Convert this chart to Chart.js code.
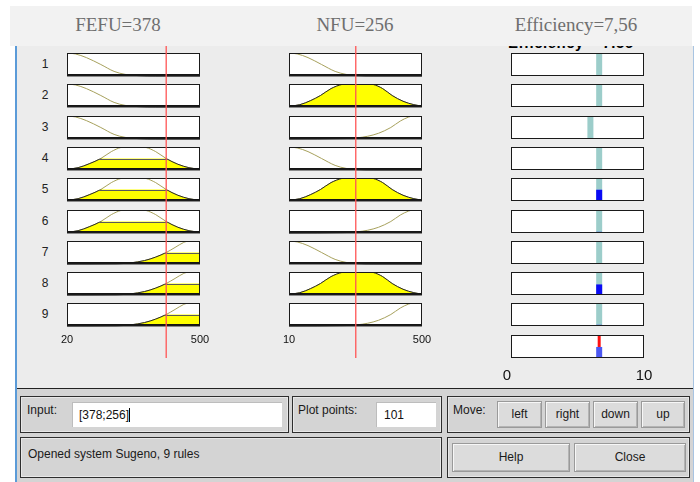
<!DOCTYPE html>
<html><head><meta charset="utf-8">
<script src="https://cdn.jsdelivr.net/npm/chart.js@4.4.1/dist/chart.umd.min.js"></script>
<style>
html,body{margin:0;padding:0;background:#fff;}
body{width:700px;height:482px;overflow:hidden;font-family:"Liberation Sans",Arial,sans-serif;}
#root{position:absolute;left:0;top:0;width:700px;height:482px;}
.a{position:absolute;}
canvas{position:absolute;}
.frame{position:absolute;border:1px solid #2e2e2e;box-shadow:inset 0 0 0 1px #e8e8e8;box-sizing:border-box;}
.lbl{position:absolute;font-size:12px;color:#1a1a1a;white-space:nowrap;}
.field{position:absolute;background:#fff;box-sizing:border-box;border-top:1px solid #bdbdbd;border-left:1px solid #bdbdbd;font-size:12px;color:#111;white-space:nowrap;}
.btn{position:absolute;box-sizing:border-box;background:#dcdcdc;border:1px solid #9a9a9a;box-shadow:inset 1px 1px 0 #f7f7f7,inset -1px -1px 0 #b4b4b4;font-size:12px;color:#1a1a1a;text-align:center;}
</style></head>
<body><div id="root"></div>
<script>
// ---------------- data ----------------
const ruleLabels = ['1','2','3','4','5','6','7','8','9'];
const titleTexts = ['FEFU=378', 'NFU=256', 'Efficiency=7,56'];
const hiddenOutputTitle = 'Efficiency = 7.56';
const fefuRange = [20, 500];
const nfuRange = [10, 500];
const outRange = [0, 10];
const fefuTicks = ['20', '500'];
const nfuTicks = ['10', '500'];
const outTicks = ['0', '10'];
const fefuInput = 378;
const nfuInput = 256;

// membership functions (x, degree)
const fefuLowX  = [20, 50, 90, 142, 190, 230, 280, 340, 500];
const fefuLowY  = [1, 0.96, 0.8, 0.5, 0.2, 0.07, 0.015, 0, 0];
const fefuMidX  = [20, 60, 100, 142, 180, 215, 235, 285, 305, 340, 378, 420, 460, 500];
const fefuMidY  = [0.03, 0.1, 0.27, 0.5, 0.8, 0.98, 1, 1, 0.98, 0.8, 0.5, 0.25, 0.1, 0.03];
const fefuHighX = [20, 200, 250, 300, 340, 378, 410, 440, 460, 500];
const fefuHighY = [0, 0.01, 0.05, 0.15, 0.3, 0.5, 0.72, 0.93, 1, 1];

const nfuLowX  = [10, 40, 80, 130, 180, 220, 260, 320, 500];
const nfuLowY  = [1, 0.96, 0.8, 0.5, 0.2, 0.07, 0.015, 0, 0];
const nfuMidX  = [10, 50, 90, 126, 165, 205, 225, 300, 320, 355, 390, 430, 470, 500];
const nfuMidY  = [0.03, 0.1, 0.28, 0.5, 0.8, 0.98, 1, 1, 0.98, 0.8, 0.5, 0.25, 0.1, 0.04];
const nfuHighX = [10, 220, 260, 300, 340, 385, 420, 450, 470, 500];
const nfuHighY = [0, 0.02, 0.05, 0.12, 0.25, 0.5, 0.78, 0.95, 1, 1];

const ruleFefuTerm = ['low','low','low','mid','mid','mid','high','high','high'];
const ruleNfuTerm  = ['low','mid','high','low','mid','high','low','mid','high'];
const fefuDegree = [0, 0, 0, 0.5, 0.5, 0.5, 0.5, 0.5, 0.5];
const nfuDegree  = [0.015, 1, 0.05, 0.015, 1, 0.05, 0.015, 1, 0.05];
const ruleOutput   = [6.63, 6.63, 5.97, 6.63, 6.63, 6.63, 6.63, 6.63, 6.63];
const ruleStrength = [0, 0, 0, 0.04, 0.49, 0.05, 0.04, 0.46, 0.05];
const aggregateOutput = 6.63;
const aggregateStrength = 0.48;

const inputLabel = 'Input:';
const inputValue = '[378;256]';
const plotPointsLabel = 'Plot points:';
const plotPointsValue = '101';
const moveLabel = 'Move:';
const moveButtons = ['left', 'right', 'down', 'up'];
const statusText = 'Opened system Sugeno, 9 rules';
const bottomButtons = ['Help', 'Close'];

// ---------------- layout ----------------
const root = document.getElementById('root');
function div(cls, style, text) {
  const d = document.createElement('div');
  if (cls) d.className = cls;
  Object.assign(d.style, style);
  if (text !== undefined) d.textContent = text;
  root.appendChild(d);
  return d;
}
const colLeft = [67, 289, 511];
const boxW = 133, boxH = 23;
const rowTop = i => Math.round(53 + i * 31.3);

// backgrounds
div('a', {left:'17px', top:'46px', width:'676px', height:'343px', background:'#ececec'});
div('a', {left:'15px', top:'46px', width:'2px', height:'436px', background:'#5b9bd8'});
div('a', {left:'693px', top:'46px', width:'1px', height:'436px', background:'#a8c4e2'});
div('a', {left:'17px', top:'388px', width:'676px', height:'94px', background:'#d4d4d4', borderTop:'1px solid #222'});
// output title partly hidden by the band
div('lbl', {left:'508px', top:'34px', fontSize:'15px', lineHeight:'17px', fontWeight:'bold', letterSpacing:'0.5px', color:'#000'}, hiddenOutputTitle);

// row labels
ruleLabels.forEach((t, i) => {
  div('lbl', {left:'40px', top:(rowTop(i) + 4) + 'px', width:'10px', textAlign:'center', fontSize:'12px', color:'#222'}, t);
});

// ---------------- charts ----------------
const mfPlugin = {
  id: 'mfBox',
  beforeDraw(chart) {
    const a = chart.chartArea, ctx = chart.ctx;
    ctx.save(); ctx.fillStyle = '#fff'; ctx.fillRect(a.left, a.top, a.width, a.height); ctx.restore();
  },
  afterDatasetsDraw(chart, args, opts) {
    const ctx = chart.ctx, a = chart.chartArea;
    const xs = chart.scales.x, ys = chart.scales.y;
    if (opts.level !== undefined) {
      const meta = chart.getDatasetMeta(0);
      const line = meta.dataset;
      const yl = ys.getPixelForValue(opts.level);
      const y0 = ys.getPixelForValue(0);
      const buildPath = () => {
        ctx.beginPath();
        if (line && typeof line.path === 'function') line.path(ctx);
        else meta.data.forEach((p, i) => i ? ctx.lineTo(p.x, p.y) : ctx.moveTo(p.x, p.y));
        ctx.lineTo(xs.getPixelForValue(xs.max), y0);
        ctx.lineTo(xs.getPixelForValue(xs.min), y0);
        ctx.closePath();
      };
      ctx.save();
      ctx.beginPath(); ctx.rect(a.left, yl, a.width, a.bottom - yl + 1); ctx.clip();
      buildPath();
      ctx.fillStyle = '#ffff00'; ctx.fill();
      ctx.strokeStyle = '#2a2a2a'; ctx.lineWidth = 1; ctx.stroke();
      ctx.restore();
      if (opts.level > 0.02) {
        ctx.save(); buildPath(); ctx.clip();
        ctx.beginPath(); ctx.moveTo(a.left, Math.round(yl) + 0.5); ctx.lineTo(a.right, Math.round(yl) + 0.5);
        ctx.strokeStyle = '#5a5a5a'; ctx.lineWidth = 1; ctx.stroke(); ctx.restore();
      }
      ctx.save(); ctx.strokeStyle = '#151515'; ctx.lineWidth = 1;
      ctx.beginPath(); ctx.moveTo(a.left, a.bottom - 1.5); ctx.lineTo(a.right, a.bottom - 1.5); ctx.stroke(); ctx.restore();
    }
    ctx.save(); ctx.strokeStyle = '#1a1a1a'; ctx.lineWidth = 1;
    ctx.strokeRect(a.left + 0.5, a.top + 0.5, a.width - 1, a.height - 1); ctx.restore();
    if (opts.ticks) {
      ctx.save();
      ctx.fillStyle = '#111'; ctx.font = opts.ticks.font; ctx.textAlign = 'center'; ctx.textBaseline = 'middle';
      opts.ticks.values.forEach((v, i) => ctx.fillText(opts.ticks.labels[i], xs.getPixelForValue(v) + (opts.ticks.dx ? opts.ticks.dx[i] : 0), a.bottom + opts.ticks.dy));
      ctx.restore();
    }
  }
};

function makeCanvas(left, top, w, h) {
  const c = document.createElement('canvas');
  c.width = w; c.height = h;
  c.style.left = left + 'px'; c.style.top = top + 'px';
  c.style.width = w + 'px'; c.style.height = h + 'px';
  root.appendChild(c);
  return c;
}

function boxChart(col, row, range, datasets, pluginOpts, pad) {
  const p = Object.assign({left:3, right:3, top:3, bottom:3}, pad || {});
  const bx = colLeft[col], by = rowTop(row);
  const c = makeCanvas(bx - p.left, by - p.top, boxW + p.left + p.right, boxH + p.top + p.bottom);
  return new Chart(c, {
    type: 'line',
    data: { datasets },
    options: {
      responsive: false, animation: false, events: [],
      layout: { padding: p },
      scales: {
        x: { type: 'linear', min: range[0], max: range[1], display: false },
        y: { min: 0, max: 1, display: false }
      },
      elements: { point: { radius: 0 } },
      plugins: { legend: { display: false }, tooltip: { enabled: false }, mfBox: pluginOpts }
    },
    plugins: [mfPlugin]
  });
}

function pts(xs, ys) { return xs.map((x, i) => ({ x, y: ys[i] })); }
const fefuMF = { low: pts(fefuLowX, fefuLowY), mid: pts(fefuMidX, fefuMidY), high: pts(fefuHighX, fefuHighY) };
const nfuMF  = { low: pts(nfuLowX, nfuLowY),  mid: pts(nfuMidX, nfuMidY),  high: pts(nfuHighX, nfuHighY) };

function curveDataset(data) {
  return { data, borderColor: '#a7a15c', borderWidth: 1, fill: false, cubicInterpolationMode: 'monotone', pointRadius: 0 };
}
// order: lower value is drawn on top
function vbar(x, y1, color, width, order) {
  return { data: [{ x, y: 0 }, { x, y: y1 }], borderColor: color, borderWidth: width, borderCapStyle: 'butt', fill: false, pointRadius: 0, order };
}

for (let i = 0; i < 9; i++) {
  const last = i === 8;
  boxChart(0, i, fefuRange, [curveDataset(fefuMF[ruleFefuTerm[i]])],
    { level: fefuDegree[i], ticks: last ? { values: fefuRange, labels: fefuTicks, dy: 14, font: '11px "Liberation Sans", Arial' } : null },
    last ? { left: 14, right: 14, bottom: 26 } : null);
  boxChart(1, i, nfuRange, [curveDataset(nfuMF[ruleNfuTerm[i]])],
    { level: nfuDegree[i], ticks: last ? { values: nfuRange, labels: nfuTicks, dy: 14, font: '11px "Liberation Sans", Arial' } : null },
    last ? { left: 14, right: 14, bottom: 26 } : null);
  const ds = [vbar(ruleOutput[i], 1, '#9ccdca', 6, 2)];
  if (ruleStrength[i] > 0) ds.push(vbar(ruleOutput[i], ruleStrength[i], '#0a0af5', 6, 1));
  boxChart(2, i, outRange, ds, {}, null);
}
// aggregate output row
boxChart(2, 9, outRange,
  [vbar(aggregateOutput, 1, '#ff1010', 3, 2), vbar(aggregateOutput, aggregateStrength, '#4c58f2', 6, 1)],
  { ticks: { values: outRange, labels: outTicks, dx: [-4, 0], dy: 18, font: '15px "Liberation Sans", Arial' } },
  { left: 14, right: 14, bottom: 30 });

// red input lines across columns
[[0, fefuRange, fefuInput], [1, nfuRange, nfuInput]].forEach(([col, range, val]) => {
  const c = makeCanvas(colLeft[col] - 3, 40, boxW + 6, 318);
  new Chart(c, {
    type: 'line',
    data: { datasets: [{ data: [{ x: val, y: 0 }, { x: val, y: 1 }], borderColor: '#ff5555', borderWidth: 1.3, pointRadius: 0, fill: false }] },
    options: {
      responsive: false, animation: false, events: [],
      layout: { padding: { left: 3, right: 3, top: 0, bottom: 0 } },
      scales: { x: { type: 'linear', min: range[0], max: range[1], display: false }, y: { min: 0, max: 1, display: false } },
      plugins: { legend: { display: false }, tooltip: { enabled: false } }
    }
  });
});

// title band (on top)
div('a', {left:'10px', top:'6px', width:'682px', height:'40px', background:'#f2f2f2', zIndex:5});
const titleCenters = [118, 355, 576];
titleTexts.forEach((t, i) => {
  div('a', {left:(titleCenters[i] - 100) + 'px', top:'14px', width:'200px', textAlign:'center', fontFamily:'"Liberation Serif","Times New Roman",serif', fontSize:'19px', color:'#6f6f6f', zIndex:6, whiteSpace:'nowrap'}, t);
});

// ---------------- bottom controls ----------------
div('frame', {left:'20px', top:'396px', width:'269px', height:'37px'});
div('lbl', {left:'27px', top:'403px'}, inputLabel);
const f1 = div('field', {left:'72px', top:'402px', width:'210px', height:'25px', lineHeight:'24px', paddingLeft:'6px'});
const s1 = document.createElement('span'); s1.textContent = inputValue; s1.style.borderRight = '1px solid #000'; f1.appendChild(s1);

div('frame', {left:'292px', top:'396px', width:'150px', height:'37px'});
div('lbl', {left:'298px', top:'403px'}, plotPointsLabel);
div('field', {left:'376px', top:'402px', width:'60px', height:'25px', lineHeight:'24px', paddingLeft:'7px'}, plotPointsValue);

div('frame', {left:'447px', top:'396px', width:'243px', height:'37px'});
div('lbl', {left:'453px', top:'403px'}, moveLabel);
const moveLeft = [497, 545, 593, 641], moveW = [45, 45, 45, 44];
moveButtons.forEach((t, i) => div('btn', {left:moveLeft[i] + 'px', top:'401px', width:moveW[i] + 'px', height:'27px', lineHeight:'25px'}, t));

div('frame', {left:'20px', top:'437px', width:'422px', height:'41px'});
div('lbl', {left:'28px', top:'447px'}, statusText);
div('frame', {left:'447px', top:'437px', width:'243px', height:'41px'});
div('btn', {left:'452px', top:'443px', width:'118px', height:'29px', lineHeight:'27px'}, bottomButtons[0]);
div('btn', {left:'574px', top:'443px', width:'112px', height:'29px', lineHeight:'27px'}, bottomButtons[1]);
</script>
</body></html>
